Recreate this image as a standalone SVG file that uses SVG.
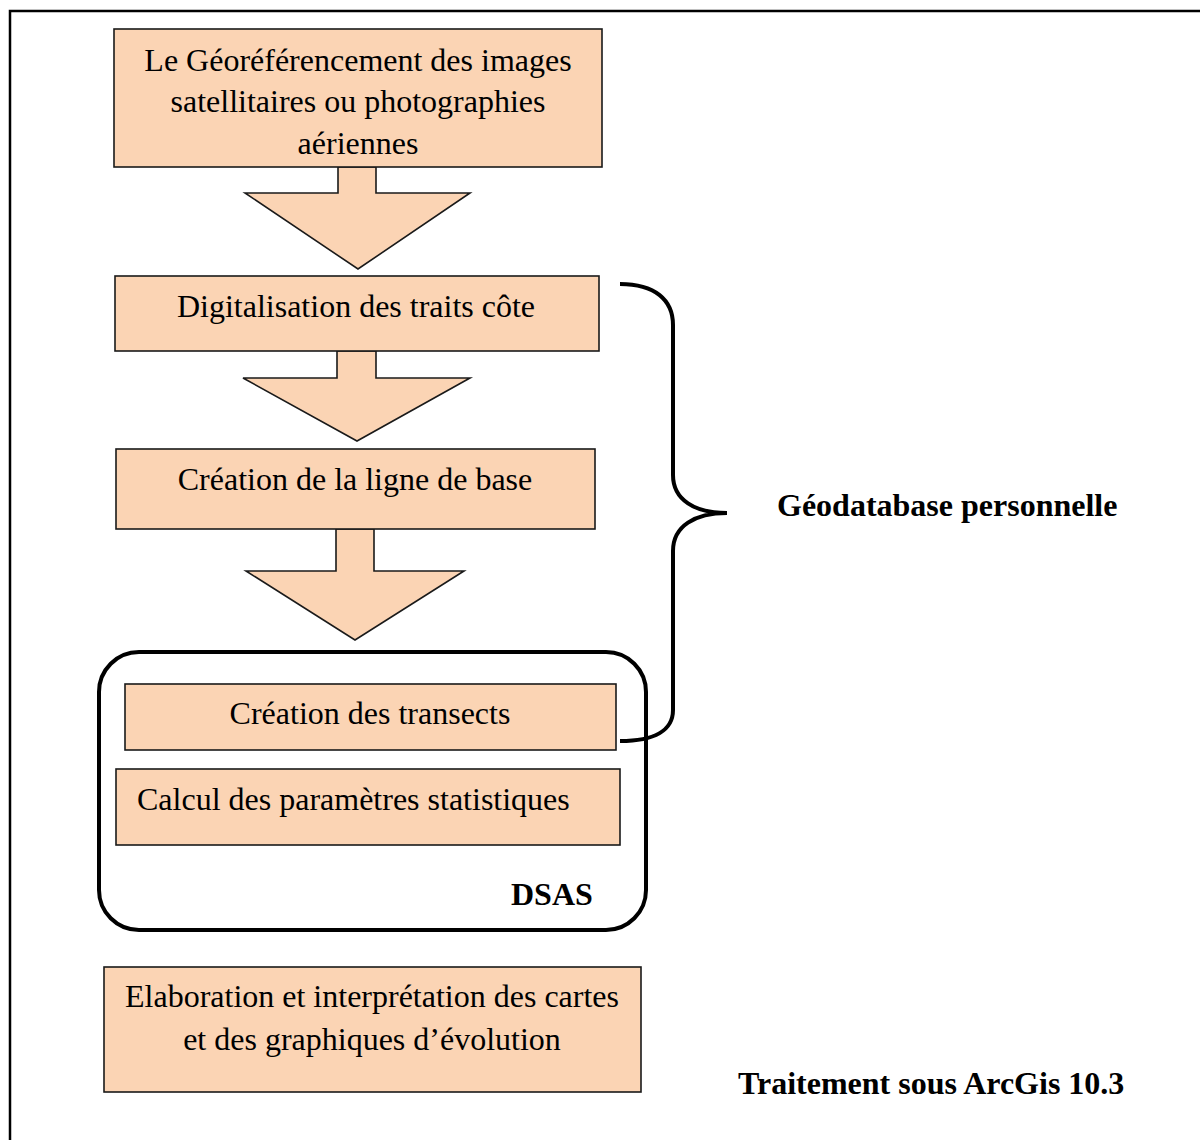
<svg xmlns="http://www.w3.org/2000/svg" width="1200" height="1140" viewBox="0 0 1200 1140">
<style>
.box{fill:#FBD4B4;stroke:#1a1a1a;stroke-width:1.6}
.arr{fill:#FBD4B4;stroke:#1a1a1a;stroke-width:1.6;stroke-linejoin:miter}
.t{font-family:"Liberation Serif","Times New Roman",serif;font-size:32px;fill:#000}
.c{text-anchor:middle}
.b{font-weight:bold}
.line{fill:none;stroke:#000;stroke-width:4}
</style>
<rect x="0" y="0" width="1200" height="1140" fill="#fff"/>
<rect x="10" y="11" width="1250" height="1250" fill="none" stroke="#000" stroke-width="2.5"/>

<g id="connectors">
<polygon class="arr" points="338,167 376,167 376,193 470,193 358,269 245,193 338,193"/>
<polygon class="arr" points="337,351 376,351 376,378 470,378 357,441 243,378 337,378"/>
<polygon class="arr" points="336,529 374,529 374,571 464,571 355,640 246,571 336,571"/>
<path class="line" d="M620,284 C655,284 673,300 673,325 L673,475 C673,500 695,513 727,513 C695,513 673,526 673,551 L673,710 C673,730 655,741 620,741"/>
</g>

<g id="dsas">
<rect x="99" y="652" width="547" height="278" rx="40" ry="40" fill="none" stroke="#000" stroke-width="4"/>
<text class="t b" x="511" y="905">DSAS</text>
</g>

<g id="n1">
<rect class="box" x="114" y="29" width="488" height="138"/>
<text class="t c" x="358" y="71">Le Géoréférencement des images</text>
<text class="t c" x="358" y="112">satellitaires ou photographies</text>
<text class="t c" x="358" y="154">aériennes</text>
</g>

<g id="n2">
<rect class="box" x="115" y="276" width="484" height="75"/>
<text class="t c" x="356" y="317">Digitalisation des traits côte</text>
</g>

<g id="n3">
<rect class="box" x="116" y="449" width="479" height="80"/>
<text class="t c" x="355" y="490">Création de la ligne de base</text>
</g>

<g id="n4">
<rect class="box" x="125" y="684" width="491" height="66"/>
<text class="t c" x="370" y="724">Création des transects</text>
</g>

<g id="n5">
<rect class="box" x="116" y="769" width="504" height="76"/>
<text class="t" x="137" y="810">Calcul des paramètres statistiques</text>
</g>

<g id="n6">
<rect class="box" x="104" y="967" width="537" height="125"/>
<text class="t c" x="372" y="1007">Elaboration et interprétation des cartes</text>
<text class="t c" x="372" y="1050">et des graphiques d’évolution</text>
</g>

<g id="labels">
<text class="t b" x="777" y="516">Géodatabase personnelle</text>
<text class="t b" x="738" y="1094">Traitement sous ArcGis 10.3</text>
</g>
</svg>
